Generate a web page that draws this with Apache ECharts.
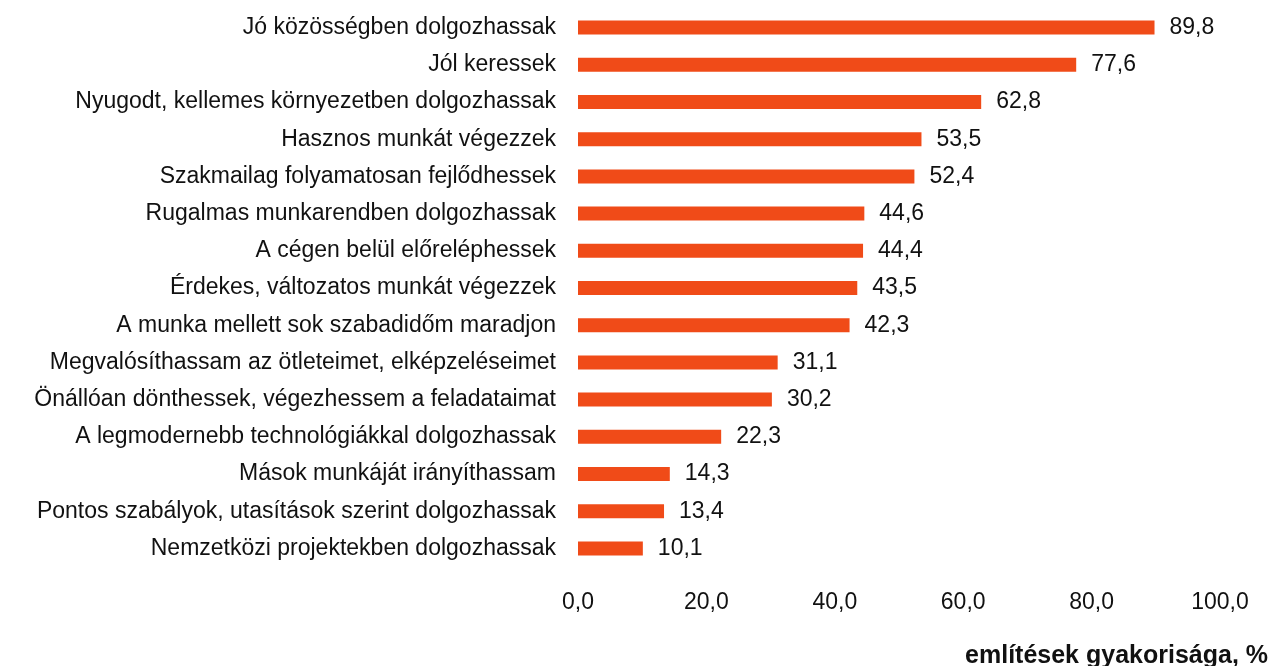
<!DOCTYPE html>
<html>
<head>
<meta charset="utf-8">
<script src="https://cdn.jsdelivr.net/npm/echarts@6/dist/echarts.min.js"></script>
<style>
	html, body { margin: 0; padding: 0; background: #fff; }
	#chart { width: 1271px; height: 666px; }
</style>
</head>
<body>
<div id="chart"></div>
<script>
// kategóriák (felülről lefelé)
const categories = [
	'Jó közösségben dolgozhassak',
	'Jól keressek',
	'Nyugodt, kellemes környezetben dolgozhassak',
	'Hasznos munkát végezzek',
	'Szakmailag folyamatosan fejlődhessek',
	'Rugalmas munkarendben dolgozhassak',
	'A cégen belül előreléphessek',
	'Érdekes, változatos munkát végezzek',
	'A munka mellett sok szabadidőm maradjon',
	'Megvalósíthassam az ötleteimet, elképzeléseimet',
	'Önállóan dönthessek, végezhessem a feladataimat',
	'A legmodernebb technológiákkal dolgozhassak',
	'Mások munkáját irányíthassam',
	'Pontos szabályok, utasítások szerint dolgozhassak',
	'Nemzetközi projektekben dolgozhassak'
];
const values = [89.8, 77.6, 62.8, 53.5, 52.4, 44.6, 44.4, 43.5, 42.3, 31.1, 30.2, 22.3, 14.3, 13.4, 10.1];
const axisTitle = 'említések gyakorisága, %';

const fmt = v => Number(v).toFixed(1).replace('.', ',');

const chart = echarts.init(document.getElementById('chart'));
const font = 'Liberation Sans, Arial, sans-serif';

chart.setOption({
	animation: false,
	title: {
		text: axisTitle,
		right: 3,
		top: 644,
		padding: 0,
		textStyle: { fontFamily: font, fontSize: 25, fontWeight: 'bold', color: '#111' }
	},
	grid: { left: 578, right: 51, top: 9, bottom: 99 },
	xAxis: {
		type: 'value',
		min: 0,
		max: 100,
		interval: 20,
		splitLine: { show: false },
		axisLine: { show: false },
		axisTick: { show: false },
		axisLabel: {
			formatter: fmt,
			margin: 24,
			fontFamily: font,
			fontSize: 23,
			color: '#111'
		}
	},
	yAxis: {
		type: 'category',
		inverse: true,
		data: categories,
		axisLine: { show: false },
		axisTick: { show: false },
		axisLabel: {
			margin: 22,
			fontFamily: font,
			fontSize: 23,
			color: '#111'
		}
	},
	series: [{
		type: 'bar',
		data: values,
		barWidth: 14,
		itemStyle: { color: '#F04B18' },
		label: {
			show: true,
			position: 'right',
			distance: 15,
			formatter: p => fmt(p.value),
			fontFamily: font,
			fontSize: 23,
			color: '#111'
		}
	}]
});
</script>
</body>
</html>
